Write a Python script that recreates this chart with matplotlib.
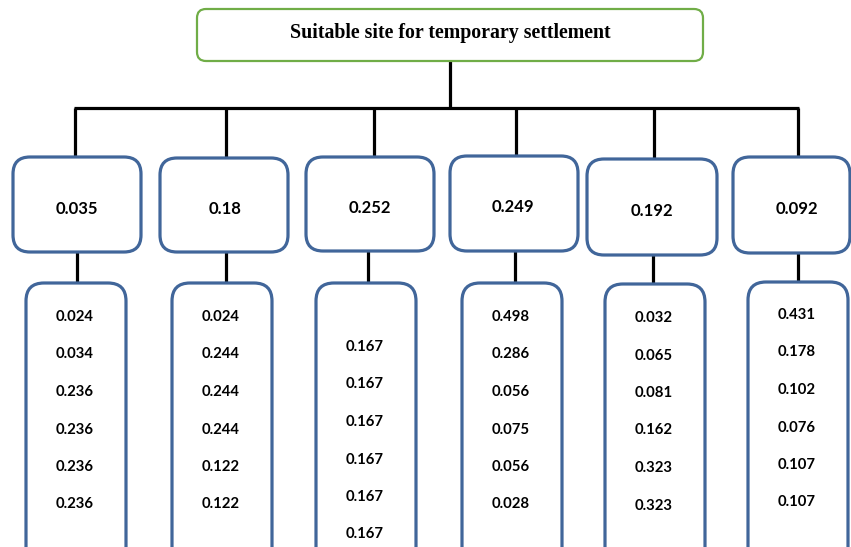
import matplotlib
matplotlib.use("Agg")
import matplotlib.pyplot as plt
from matplotlib.patches import FancyBboxPatch

# ---- data ----
goal = "Suitable site for temporary settlement"
criteria_weights = ["0.035", "0.18", "0.252", "0.249", "0.192", "0.092"]
sub_weights = [
    ["0.024", "0.034", "0.236", "0.236", "0.236", "0.236"],
    ["0.024", "0.244", "0.244", "0.244", "0.122", "0.122"],
    ["0.167", "0.167", "0.167", "0.167", "0.167", "0.167"],
    ["0.498", "0.286", "0.056", "0.075", "0.056", "0.028"],
    ["0.032", "0.065", "0.081", "0.162", "0.323", "0.323"],
    ["0.431", "0.178", "0.102", "0.076", "0.107", "0.107"],
]

# ---- layout (pixel coordinates) ----
W, H = 851, 547
top_box = (197, 9, 703, 61)
bar_y = 108
drop_x = [75, 226, 374, 516, 654, 798]
mid_left = [13, 160, 306, 450, 587, 733]
mid_right = [141, 288, 434, 578, 717, 850]
mid_top = [157, 158, 157, 156, 159, 157]
mid_bot = [252, 252, 251, 251, 255, 253]
mid_text_x = [77, 225, 370, 513, 652, 797]
conn_x = [77, 226, 368, 515, 653, 798]
low_left = [26, 172, 316, 462, 605, 748]
low_w = 100
low_top = [283, 283, 283, 283, 284, 282]
low_text_y0 = [317, 317, 347, 317, 318, 315]
row_step = 37.5

blue = "#41669A"
green = "#70AD47"

fig = plt.figure(figsize=(W / 100, H / 100), dpi=100)
ax = fig.add_axes([0, 0, 1, 1])
ax.set_xlim(0, W)
ax.set_ylim(H, 0)
ax.axis("off")

# top box
x0, y0, x1, y1 = top_box
ax.add_patch(FancyBboxPatch((x0, y0), x1 - x0, y1 - y0,
                            boxstyle="round,pad=0,rounding_size=9",
                            fc="white", ec=green, lw=1.6, zorder=3))
ax.text((x0 + x1) / 2, 33, goal, ha="center", va="center",
        family="Liberation Serif", fontweight="bold", fontsize=14.3, zorder=4)

lw_line = 2.3
ax.plot([450, 450], [y1, bar_y], color="black", lw=lw_line, solid_capstyle="butt")
ax.plot([drop_x[0] - 1, drop_x[-1] + 1], [bar_y, bar_y], color="black", lw=lw_line,
        solid_capstyle="butt")

for i in range(6):
    ax.plot([drop_x[i], drop_x[i]], [bar_y, mid_top[i] + 2], color="black", lw=lw_line,
            solid_capstyle="butt", zorder=1)
    l, r, t, b = mid_left[i], mid_right[i], mid_top[i], mid_bot[i]
    ax.add_patch(FancyBboxPatch((l, t), r - l, b - t,
                                boxstyle="round,pad=0,rounding_size=17",
                                fc="white", ec=blue, lw=2.3, zorder=3))
    ax.text(mid_text_x[i], (t + b) / 2 + 4, criteria_weights[i], ha="center", va="center",
            family="Lato", fontweight="bold", fontsize=12, zorder=4)
    ax.plot([conn_x[i], conn_x[i]], [b, low_top[i] + 2], color="black", lw=lw_line,
            solid_capstyle="butt", zorder=1)
    ax.add_patch(FancyBboxPatch((low_left[i], low_top[i]), low_w, 300,
                                boxstyle="round,pad=0,rounding_size=18",
                                fc="white", ec=blue, lw=2.3, zorder=3))
    cx = low_left[i] + low_w / 2 - 1
    for j, v in enumerate(sub_weights[i]):
        ax.text(cx, low_text_y0[i] + j * row_step, v, ha="center", va="center",
                family="Lato", fontweight="bold", fontsize=10.7, zorder=4)

fig.savefig("out.png", dpi=100)
